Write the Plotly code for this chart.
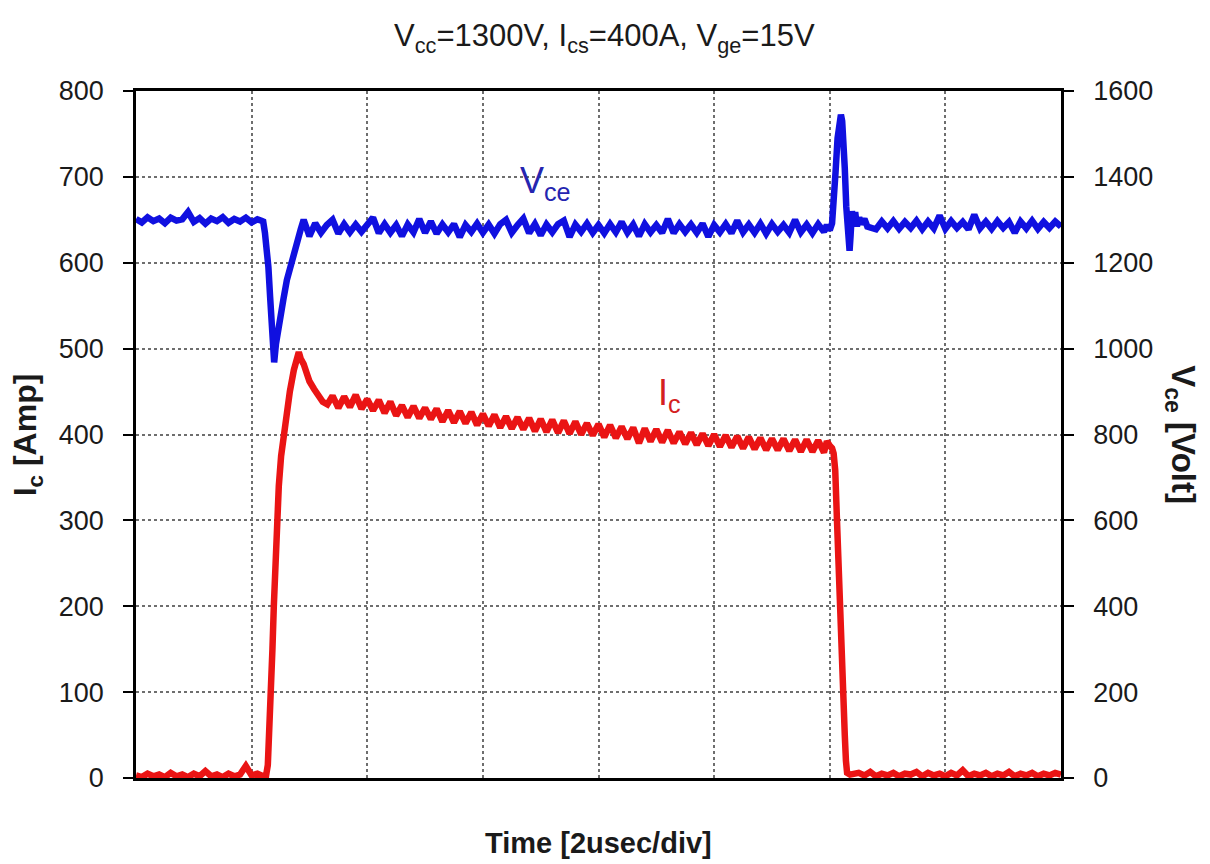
import plotly.graph_objects as go

# ---------------- data ----------------
# Time in microseconds (8 divisions x 2 us)
vce_t = [0.0, 0.1, 0.2, 0.3, 0.4, 0.5, 0.6, 0.7, 0.8, 0.9, 1.0, 1.1, 1.2, 1.3, 1.4, 1.5, 1.6, 1.7, 1.8, 1.9, 2.0, 2.1, 2.17,
         2.20, 2.23, 2.26, 2.29, 2.32, 2.35, 2.37, 2.39, 2.42, 2.46, 2.50, 2.55, 2.61, 2.67, 2.73, 2.79, 2.85, 2.90,
         3.0, 3.1, 3.2, 3.3, 3.4, 3.5, 3.6, 3.7, 3.8, 3.9, 4.0, 4.1, 4.2, 4.3, 4.4, 4.5, 4.6, 4.7, 4.8, 4.9,
         5.0, 5.1, 5.2, 5.3, 5.4, 5.5, 5.6, 5.7, 5.8, 5.9, 6.0, 6.1, 6.2, 6.3, 6.4, 6.5, 6.6, 6.7, 6.8, 6.9,
         7.0, 7.1, 7.2, 7.3, 7.4, 7.5, 7.6, 7.7, 7.8, 7.9, 8.0, 8.1, 8.2, 8.3, 8.4, 8.5, 8.6, 8.7, 8.8, 8.9,
         9.0, 9.1, 9.2, 9.3, 9.4, 9.5, 9.6, 9.7, 9.8, 9.9, 10.0, 10.1, 10.2, 10.3, 10.4, 10.5, 10.6, 10.7, 10.8, 10.9,
         11.0, 11.1, 11.2, 11.3, 11.4, 11.5, 11.6, 11.7, 11.8, 11.9, 11.95,
         12.0, 12.04, 12.07, 12.10, 12.135, 12.165, 12.193, 12.215, 12.239, 12.26, 12.286, 12.308, 12.325, 12.343,
         12.36, 12.384, 12.41, 12.44, 12.47, 12.51, 12.55, 12.60, 12.65,
         12.8, 12.9, 13.0, 13.1, 13.2, 13.3, 13.4, 13.5, 13.6, 13.7, 13.8, 13.9, 14.0, 14.1, 14.2, 14.3, 14.4, 14.5,
         14.6, 14.7, 14.8, 14.9, 15.0, 15.1, 15.2, 15.3, 15.4, 15.5, 15.6, 15.7, 15.8, 15.9, 16.0]
vce_v = [1302, 1294, 1306, 1297, 1303, 1292, 1305, 1298, 1301, 1318, 1295, 1304, 1291, 1303, 1297, 1306, 1293, 1302, 1296, 1305, 1294, 1301, 1298,
         1296, 1270, 1235, 1190, 1120, 1040, 975, 968, 1010, 1050, 1076, 1115, 1160, 1192, 1225, 1255, 1278, 1300,
         1262, 1292, 1270, 1288, 1300, 1268, 1290, 1271, 1289, 1272, 1291, 1305, 1269, 1290, 1270, 1288, 1262, 1289, 1271, 1302,
         1270, 1296, 1268, 1289, 1271, 1290, 1260, 1288, 1272, 1291, 1270, 1289, 1268, 1290, 1300, 1270, 1288, 1303, 1269, 1290,
         1264, 1289, 1271, 1290, 1298, 1260, 1289, 1272, 1291, 1270, 1288, 1269, 1290, 1271, 1295, 1270, 1289, 1262, 1290, 1271,
         1288, 1270, 1302, 1269, 1290, 1272, 1289, 1270, 1291, 1261, 1288, 1271, 1290, 1269, 1298, 1271, 1289, 1270, 1291, 1268,
         1290, 1272, 1288, 1270, 1300, 1271, 1289, 1269, 1290, 1272, 1288,
         1276, 1292, 1340, 1410, 1490, 1530, 1545, 1530, 1490, 1420, 1330, 1290, 1250, 1228,
         1262, 1320, 1300, 1318, 1285, 1305, 1290, 1302, 1284,
         1278, 1296, 1280, 1297, 1279, 1295, 1281, 1298, 1278, 1296, 1280, 1310, 1279, 1297, 1281, 1295, 1278, 1312,
         1280, 1296, 1279, 1297, 1281, 1295, 1270, 1296, 1280, 1298, 1279, 1295, 1281, 1296, 1284]

ic_t = [0.0, 0.1, 0.2, 0.3, 0.4, 0.5, 0.6, 0.7, 0.8, 0.9, 1.0, 1.1, 1.2, 1.3, 1.4, 1.5, 1.6, 1.7, 1.8, 1.9, 2.0, 2.1, 2.2, 2.25,
        2.28, 2.31, 2.338, 2.36, 2.384, 2.41, 2.441, 2.47, 2.51, 2.557, 2.61, 2.661, 2.73, 2.78, 2.816, 2.85, 2.90,
        2.95, 3.0, 3.08, 3.15, 3.23, 3.31,
        3.4, 3.5, 3.6, 3.7, 3.8, 3.9, 4.0, 4.1, 4.2, 4.3, 4.4, 4.5, 4.6, 4.7, 4.8, 4.9,
        5.0, 5.1, 5.2, 5.3, 5.4, 5.5, 5.6, 5.7, 5.8, 5.9, 6.0, 6.1, 6.2, 6.3, 6.4, 6.5, 6.6, 6.7, 6.8, 6.9,
        7.0, 7.1, 7.2, 7.3, 7.4, 7.5, 7.6, 7.7, 7.8, 7.9, 8.0, 8.1, 8.2, 8.3, 8.4, 8.5, 8.6, 8.7, 8.8, 8.9,
        9.0, 9.1, 9.2, 9.3, 9.4, 9.5, 9.6, 9.7, 9.8, 9.9, 10.0, 10.1, 10.2, 10.3, 10.4, 10.5, 10.6, 10.7, 10.8, 10.9,
        11.0, 11.1, 11.2, 11.3, 11.4, 11.5, 11.6, 11.7, 11.8, 11.9, 11.95,
        12.0, 12.04, 12.067, 12.095, 12.125, 12.17, 12.20, 12.23, 12.26, 12.28, 12.30, 12.35,
        12.5, 12.6, 12.7, 12.8, 12.9, 13.0, 13.1, 13.2, 13.3, 13.4, 13.5, 13.6, 13.7, 13.8, 13.9, 14.0, 14.1, 14.2,
        14.3, 14.4, 14.5, 14.6, 14.7, 14.8, 14.9, 15.0, 15.1, 15.2, 15.3, 15.4, 15.5, 15.6, 15.7, 15.8, 15.9, 16.0]
ic_a = [3, 1, 5, 2, 4, 1, 6, 2, 4, 1, 5, 2, 8, 2, 4, 1, 5, 2, 4, 14, 3, 5, 2, 3,
        15, 55, 100, 150, 200, 250, 300, 340, 375, 400, 428, 450, 475, 490, 496, 488, 482,
        472, 462, 453, 445, 438, 435,
        445, 431, 444, 432, 446, 430, 441, 428, 440, 425, 438, 422, 434, 420, 433, 419,
        431, 418, 430, 415, 428, 414, 427, 413, 426, 411, 424, 410, 423, 408, 421, 407, 420, 406, 419, 404,
        418, 403, 417, 402, 416, 401, 415, 400, 413, 399, 412, 397, 411, 396, 409, 395, 408, 390, 407, 392,
        406, 391, 405, 390, 403, 389, 402, 388, 401, 387, 400, 386, 399, 385, 398, 384, 397, 383, 396, 382,
        395, 382, 395, 381, 394, 380, 394, 380, 393, 379, 392,
        387, 384, 378, 358, 300, 200, 150, 100, 50, 20, 6, 4,
        6, 3, 7, 2, 5, 3, 6, 2, 5, 4, 7, 2, 6, 3, 5, 2, 6, 3,
        9, 2, 5, 3, 6, 2, 5, 3, 7, 2, 5, 3, 6, 2, 5, 3, 6, 4]

x_ticks = [0, 2, 4, 6, 8, 10, 12, 14, 16]
ic_ticks = [0, 100, 200, 300, 400, 500, 600, 700, 800]
vce_ticks = [0, 200, 400, 600, 800, 1000, 1200, 1400, 1600]

# ---------------- figure ----------------
FONT = "Liberation Sans, Arial, sans-serif"
BLUE = "#1010e0"
RED = "#ea1414"

fig = go.Figure()
fig.add_trace(go.Scatter(x=vce_t, y=vce_v, yaxis="y2", mode="lines",
                         line=dict(color=BLUE, width=6.5), name="Vce", hoverinfo="skip"))
fig.add_trace(go.Scatter(x=ic_t, y=ic_a, yaxis="y", mode="lines",
                         line=dict(color=RED, width=6.5), name="Ic", hoverinfo="skip"))

grid = dict(showgrid=True, gridcolor="#6e6e6e", gridwidth=1.5, griddash="dot")

fig.update_layout(
    width=1210, height=864,
    margin=dict(l=136, r=149, t=91, b=86),
    paper_bgcolor="white", plot_bgcolor="white",
    showlegend=False,
    font=dict(family=FONT, color="#1a1a1a"),
    xaxis=dict(range=[0, 16], tickvals=x_ticks, showticklabels=False, ticks="",
               showline=True, linecolor="black", linewidth=2.5, mirror=True,
               zeroline=False, **grid),
    yaxis=dict(range=[0, 800], tickvals=ic_ticks, ticks="outside", ticklen=10, tickwidth=1.5,
               tickcolor="black", ticklabelstandoff=14,
               tickfont=dict(size=27, family=FONT, color="#1a1a1a"),
               showline=True, linecolor="black", linewidth=2.5, mirror=True,
               zeroline=False, **grid),
    yaxis2=dict(range=[0, 1600], tickvals=vce_ticks, overlaying="y", side="right",
                ticks="outside", ticklen=10, tickwidth=1.5, tickcolor="black", ticklabelstandoff=14,
                tickfont=dict(size=27, family=FONT, color="#1a1a1a"),
                showline=True, linecolor="black", linewidth=2.5,
                showgrid=False, zeroline=False),
)

ann = []
ann.append(dict(text="V<sub>cc</sub>=1300V, I<sub>cs</sub>=400A, V<sub>ge</sub>=15V",
                xref="paper", yref="paper", x=0.507, y=1.077, xanchor="center", yanchor="middle",
                showarrow=False, font=dict(size=31, family=FONT, color="#1a1a1a")))
ann.append(dict(text="<b>Time [2usec/div]</b>", xref="paper", yref="paper", x=0.5, y=-0.094,
                xanchor="center", yanchor="middle", showarrow=False,
                font=dict(size=29, family=FONT, color="#1a1a1a")))
ann.append(dict(text="<b>I<sub>c</sub> [Amp]</b>", xref="paper", yref="paper", x=-0.117, y=0.5,
                xanchor="center", yanchor="middle", textangle=-90, showarrow=False,
                font=dict(size=32, family=FONT, color="#1a1a1a")))
ann.append(dict(text="<b>V<sub>ce</sub> [Volt]</b>", xref="paper", yref="paper", x=1.130, y=0.5,
                xanchor="center", yanchor="middle", textangle=90, showarrow=False,
                font=dict(size=33, family=FONT, color="#1a1a1a")))
ann.append(dict(text="V<sub>ce</sub>", xref="x", yref="y2", x=7.08, y=1385,
                xanchor="center", yanchor="middle", showarrow=False,
                font=dict(size=36, family=FONT, color="#2525b0")))
ann.append(dict(text="I<sub>c</sub>", xref="x", yref="y", x=9.22, y=446,
                xanchor="center", yanchor="middle", showarrow=False,
                font=dict(size=36, family=FONT, color="#d42020")))
fig.update_layout(annotations=ann)

fig.write_html("out.html")
